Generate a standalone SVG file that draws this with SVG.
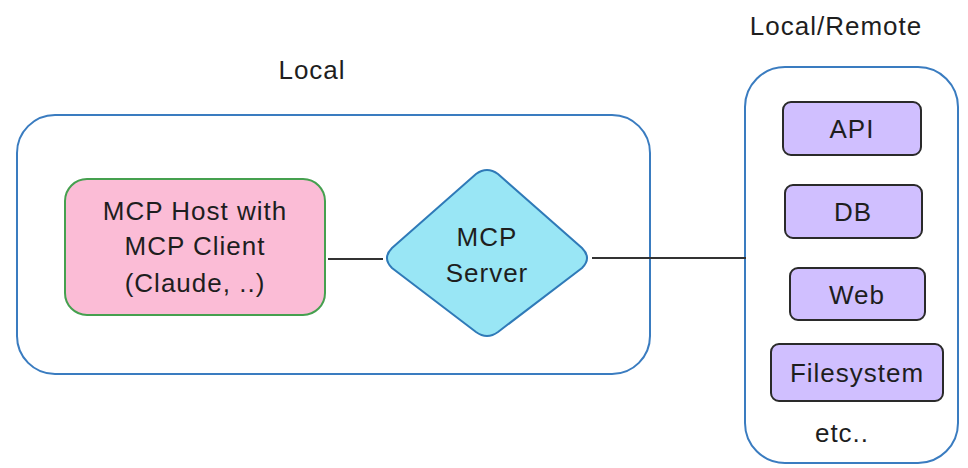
<svg xmlns="http://www.w3.org/2000/svg" width="968" height="468" viewBox="0 0 968 468">
<style>
text{font-family:"Liberation Sans","DejaVu Sans",sans-serif;fill:#1e1e1e;text-anchor:middle;font-size:26px;letter-spacing:1px}
.container{fill:#fff;stroke:#3a7cc0;stroke-width:2}
.res{fill:#d0bfff;stroke:#2a2a2a;stroke-width:2}
.conn{stroke:#333;stroke-width:2;fill:none}
</style>
<rect width="968" height="468" fill="#fff"/>
<g id="local">
<rect class="container" x="17" y="115" width="633" height="259" rx="38"/>
<text x="312" y="79">Local</text>
</g>
<g id="remote">
<rect class="container" x="745" y="67" width="213" height="396" rx="40"/>
<text x="836" y="35">Local/Remote</text>
</g>
<g id="connectors">
<line class="conn" x1="328" y1="259" x2="383" y2="259"/>
<line class="conn" x1="592" y1="258" x2="746" y2="258"/>
</g>
<g id="host">
<rect x="65" y="179" width="260" height="136" rx="22" fill="#fbbcd6" stroke="#45a04f" stroke-width="2"/>
<text x="195" y="220">MCP Host with</text>
<text x="195" y="255">MCP Client</text>
<text x="195" y="292">(Claude, ..)</text>
</g>
<g id="server">
<path d="M476 174 Q487 166 498 174 L582 248 Q592 258 582 268 L498 332 Q487 340 476 332 L392 268 Q382 258 392 248 Z" fill="#99e6f5" stroke="#2f7ab8" stroke-width="2"/>
<text x="487" y="246">MCP</text>
<text x="487" y="282">Server</text>
</g>
<g id="api">
<rect class="res" x="783" y="102" width="138" height="53" rx="8"/>
<text x="852" y="138">API</text>
</g>
<g id="db">
<rect class="res" x="785" y="185" width="137" height="53" rx="8"/>
<text x="853" y="221">DB</text>
</g>
<g id="web">
<rect class="res" x="790" y="268" width="135" height="52" rx="8"/>
<text x="857" y="304">Web</text>
</g>
<g id="filesystem">
<rect class="res" x="771" y="344" width="172" height="57" rx="8"/>
<text x="857" y="382">Filesystem</text>
</g>
<g id="etc">
<text x="842" y="442">etc..</text>
</g>
</svg>
